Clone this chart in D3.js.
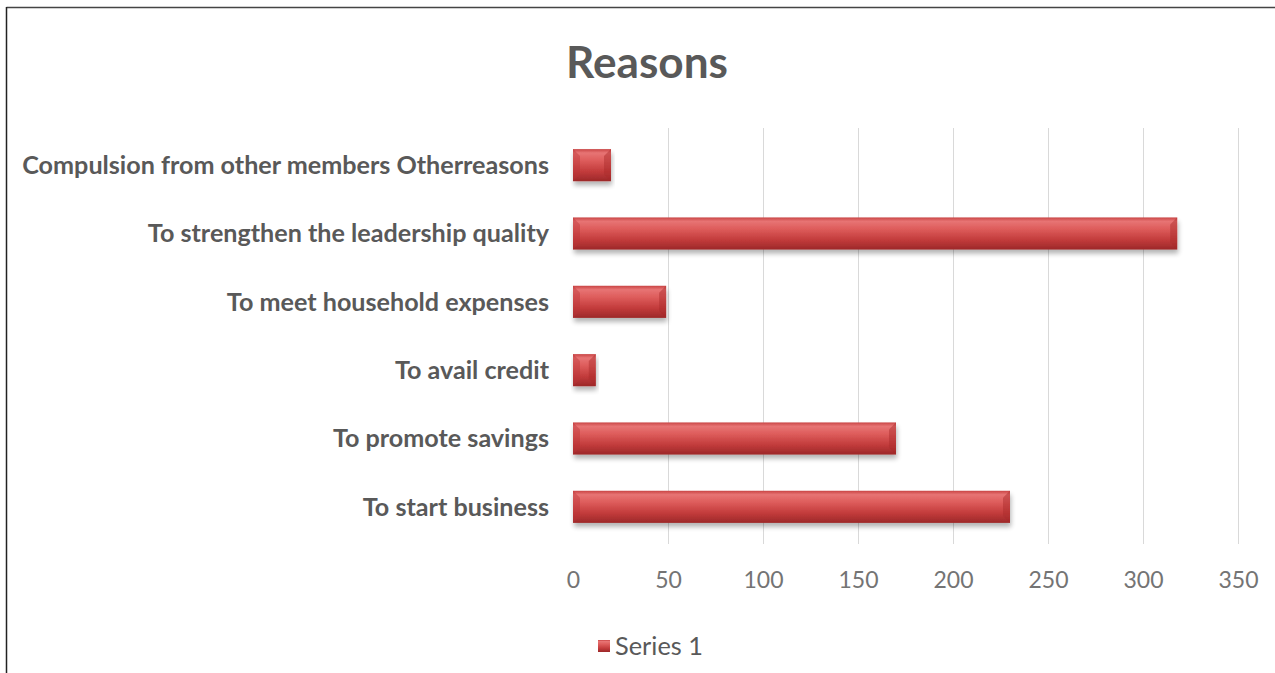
<!DOCTYPE html>
<html>
<head>
<meta charset="utf-8">
<script src="https://cdn.jsdelivr.net/npm/d3@7"></script>
<style>
  html, body { margin: 0; padding: 0; background: #fff; }
  svg { display: block; }
</style>
</head>
<body>
<svg id="chart" width="1275" height="673"></svg>
<script>
// Reasons for joining, one bar per reason (top to bottom)
const categories = [
  "Compulsion from other members Otherreasons",
  "To strengthen the leadership quality",
  "To meet household expenses",
  "To avail credit",
  "To promote savings",
  "To start business"
];
const values = [20, 318, 49, 12, 170, 230];
const xTicks = [0, 50, 100, 150, 200, 250, 300, 350];
const seriesName = "Series 1";
const chartTitle = "Reasons";

const svg = d3.select("#chart");
const W = 1275, H = 673;
const textColor = "#595959";
const font = "Lato, 'Open Sans', 'DejaVu Sans', sans-serif";

// fit a text selection to a target width
function fitWidth(sel, base, target) {
  let w = 0;
  sel.each(function () { w = Math.max(w, this.getComputedTextLength()); });
  sel.attr("font-size", base * target / w);
}

// frame (top and left edge)
svg.append("line").attr("x1", 6.5).attr("x2", W).attr("y1", 7.5).attr("y2", 7.5)
  .attr("stroke", "#444").attr("stroke-width", 1.5);
svg.append("line").attr("x1", 6.5).attr("x2", 6.5).attr("y1", 7).attr("y2", H)
  .attr("stroke", "#222").attr("stroke-width", 1.5);

const plot = { left: 573, right: 1238, top: 131, bottom: 541 };

const x = d3.scaleLinear().domain([0, 350]).range([plot.left, plot.right]);
const y = d3.scaleBand().domain(categories).range([plot.top, plot.bottom]).paddingInner(0.53).paddingOuter(0.265);

// defs: gradient + shadow
const defs = svg.append("defs");
const grad = defs.append("linearGradient").attr("id", "barGrad")
  .attr("x1", 0).attr("y1", 0).attr("x2", 0).attr("y2", 1);
[[0, "#c94444"], [0.12, "#e77474"], [0.35, "#de5d5c"], [0.7, "#c23b3b"], [1, "#9c2829"]]
  .forEach(([o, c]) => grad.append("stop").attr("offset", o).attr("stop-color", c));

const shadow = defs.append("filter").attr("id", "shadow")
  .attr("x", "-10%").attr("y", "-30%").attr("width", "120%").attr("height", "180%");
shadow.append("feGaussianBlur").attr("in", "SourceAlpha").attr("stdDeviation", 2.5).attr("result", "b");
shadow.append("feOffset").attr("in", "b").attr("dx", 1).attr("dy", 4).attr("result", "o");
shadow.append("feComponentTransfer").attr("in", "o").attr("result", "s")
  .append("feFuncA").attr("type", "linear").attr("slope", 0.3);
const merge = shadow.append("feMerge");
merge.append("feMergeNode").attr("in", "s");
merge.append("feMergeNode").attr("in", "SourceGraphic");

// gridlines
svg.append("g").selectAll("line").data(xTicks.filter(d => d > 0)).join("line")
  .attr("x1", d => x(d) + 0.5).attr("x2", d => x(d) + 0.5)
  .attr("y1", 128).attr("y2", 544)
  .attr("stroke", "#d9d9d9").attr("stroke-width", 1);

// x axis tick labels
const xAxis = d3.axisBottom(x).tickValues(xTicks).tickSize(0).tickPadding(0);
const gx = svg.append("g").attr("transform", "translate(0,580)").call(xAxis);
gx.select(".domain").remove();
gx.selectAll("text").attr("font-family", font).attr("font-size", 23)
  .attr("fill", "#747474").attr("dy", "0.35em");

// bars
const bars = svg.append("g").selectAll("g").data(categories).join("g")
  .attr("filter", "url(#shadow)");
bars.append("rect")
  .attr("x", x(0)).attr("y", d => y(d))
  .attr("width", (d, i) => x(values[i]) - x(0))
  .attr("height", y.bandwidth())
  .attr("fill", "url(#barGrad)");
// bevelled ends
const bev = 7;
bars.append("path")
  .attr("d", (d, i) => {
    const x0 = x(0), yy = y(d), h = y.bandwidth();
    return `M${x0},${yy}L${x0 + bev},${yy + bev}L${x0 + bev},${yy + h - bev}L${x0},${yy + h}Z`;
  })
  .attr("fill", "#b83334").attr("opacity", 0.4);
bars.append("path")
  .attr("d", (d, i) => {
    const x1 = x(values[i]), yy = y(d), h = y.bandwidth();
    const b = Math.min(bev, (x1 - x(0)) / 3);
    return `M${x1},${yy}L${x1 - b},${yy + b}L${x1 - b},${yy + h - b}L${x1},${yy + h}Z`;
  })
  .attr("fill", "#a82a2b").attr("opacity", 0.45);

// category labels
const yAxis = d3.axisLeft(y).tickSize(0).tickPadding(0);
const gy = svg.append("g").attr("transform", "translate(549,0)").call(yAxis);
gy.select(".domain").remove();
const labels = gy.selectAll("text").attr("font-family", font).attr("font-weight", "bold")
  .attr("font-size", 20).attr("fill", textColor).attr("dy", "0.35em");
fitWidth(labels, 20, 527);

// title
const title = svg.append("text").attr("x", 647).attr("y", 78).attr("text-anchor", "middle")
  .attr("font-family", font).attr("font-weight", "bold").attr("font-size", 40)
  .attr("fill", textColor).text(chartTitle);
fitWidth(title, 40, 162);

// legend
const lg = svg.append("g").attr("transform", "translate(598,640)");
lg.append("rect").attr("width", 12).attr("height", 12).attr("fill", "url(#barGrad)");
const lt = lg.append("text").attr("x", 17).attr("y", 6).attr("dy", "0.35em")
  .attr("font-family", font).attr("font-size", 22).attr("fill", textColor).text(seriesName);
fitWidth(lt, 22, 88);
</script>
</body>
</html>
